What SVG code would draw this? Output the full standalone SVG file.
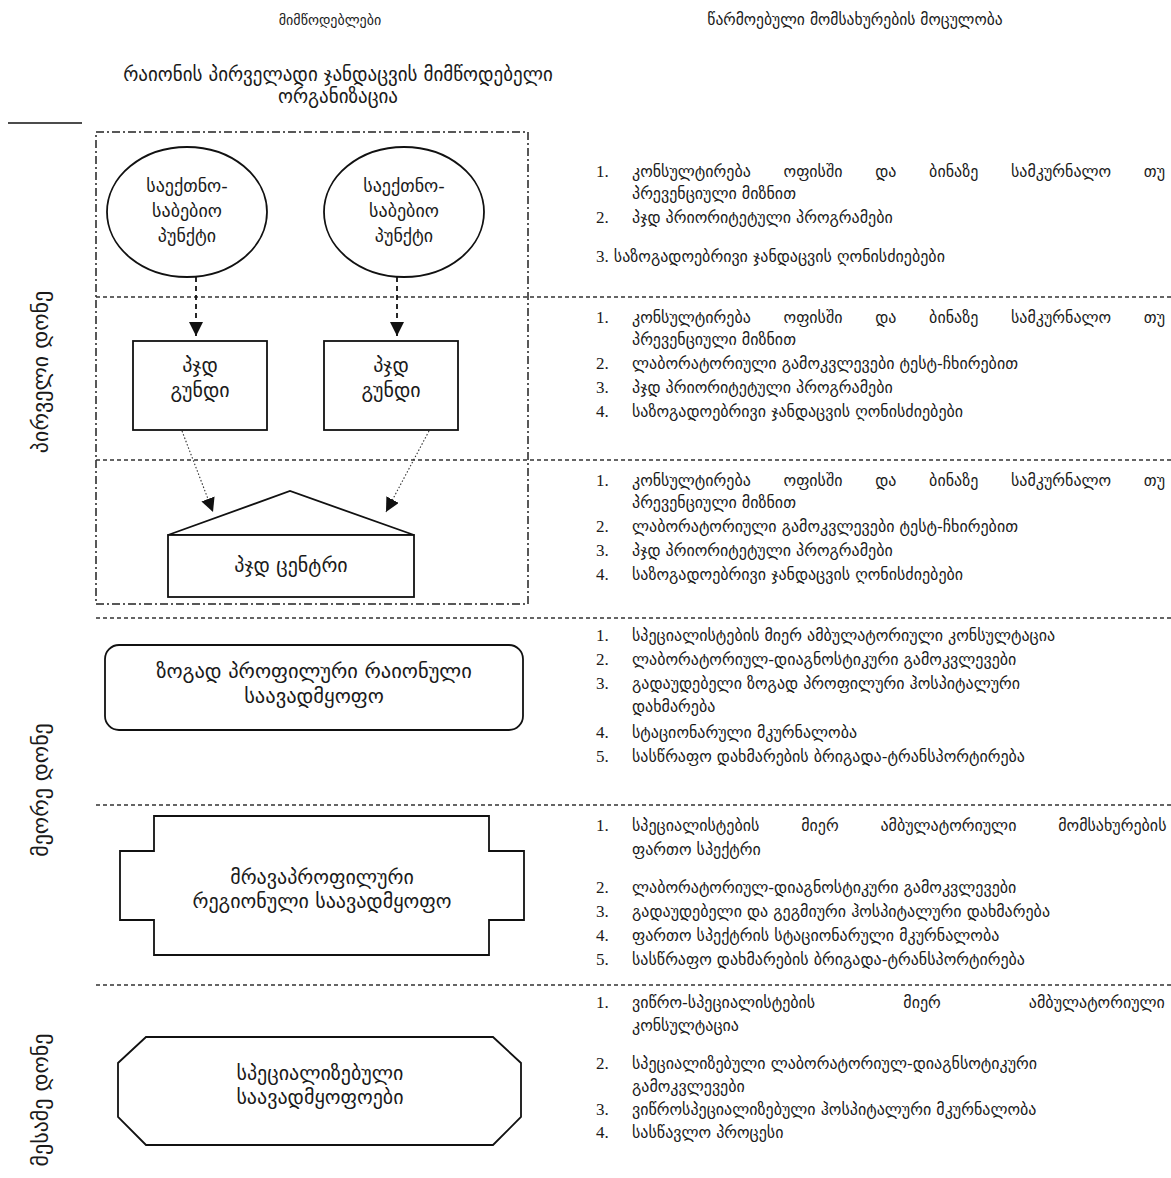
<svg xmlns="http://www.w3.org/2000/svg" width="1171" height="1178" viewBox="0 0 1171 1178">
<style>
text{font-family:"DejaVu Sans",sans-serif;fill:#1a1a1a}
.h{font-size:15px}
.sub{font-size:19px}
.t{font-size:16px}
.n{font-family:"Liberation Serif",serif;font-size:17px}
.lv{font-size:22px}
.ne{font-size:18px}
.nd{font-size:20px}
.sh{fill:#fff;stroke:#111;stroke-width:1.8}
.sep{stroke:#333;stroke-width:1.3;stroke-dasharray:4 3;fill:none}
.dd{stroke:#222;stroke-width:1.5;stroke-dasharray:8 3 2 3;fill:none}
.da{stroke:#111;stroke-width:1.8;stroke-dasharray:5 4;fill:none}
.do{stroke:#333;stroke-width:1.1;stroke-dasharray:1.5 2;fill:none}
</style>
<defs>
<marker id="ah" markerUnits="userSpaceOnUse" markerWidth="14" markerHeight="14" viewBox="0 0 14 14" refX="14" refY="7" orient="auto">
<path d="M0,0 L14,7 L0,14 z" fill="#111"/>
</marker>
</defs>
<rect width="1171" height="1178" fill="#fff"/>

<g id="headers">
<text class="h" x="330" y="25" text-anchor="middle" style="font-size:14px">მიმწოდებლები</text>
<text class="h" x="855" y="25" text-anchor="middle" style="font-size:15.6px">წარმოებული მომსახურების მოცულობა</text>
<text class="sub" x="338" y="81" text-anchor="middle">რაიონის პირველადი ჯანდაცვის მიმწოდებელი</text>
<text class="sub" x="338" y="103" text-anchor="middle">ორგანიზაცია</text>
<line x1="8" y1="123" x2="82" y2="123" stroke="#111" stroke-width="1.5"/>
</g>

<g id="levels">
<text class="lv" transform="translate(48,372) rotate(-90)" text-anchor="middle">პირველი დონე</text>
<text class="lv" transform="translate(48,790) rotate(-90)" text-anchor="middle">მეორე დონე</text>
<text class="lv" transform="translate(48,1100) rotate(-90)" text-anchor="middle">მესამე დონე</text>
</g>

<g id="separators">
<rect class="dd" x="96" y="132" width="432" height="472"/>
<line class="sep" x1="96" y1="297" x2="1171" y2="297"/>
<line class="sep" x1="96" y1="460" x2="1171" y2="460"/>
<line class="sep" x1="96" y1="618" x2="1171" y2="618"/>
<line class="sep" x1="96" y1="805" x2="1171" y2="805"/>
<line class="sep" x1="96" y1="985" x2="1171" y2="985"/>
</g>

<g id="connectors">
<line class="da" x1="196" y1="277" x2="196" y2="336" marker-end="url(#ah)"/>
<line class="da" x1="397" y1="277" x2="397" y2="336" marker-end="url(#ah)"/>
<line class="do" x1="182" y1="431" x2="213" y2="512" marker-end="url(#ah)"/>
<line class="do" x1="429" y1="431" x2="386" y2="512" marker-end="url(#ah)"/>
</g>

<g id="fap1">
<ellipse class="sh" cx="187" cy="212" rx="80" ry="65"/>
<text class="ne" text-anchor="middle"><tspan x="187" y="192">საექთნო-</tspan><tspan x="187" y="217">საბებიო</tspan><tspan x="187" y="242">პუნქტი</tspan></text>
</g>
<g id="fap2">
<ellipse class="sh" cx="404" cy="212" rx="80" ry="65"/>
<text class="ne" text-anchor="middle"><tspan x="404" y="192">საექთნო-</tspan><tspan x="404" y="217">საბებიო</tspan><tspan x="404" y="242">პუნქტი</tspan></text>
</g>
<g id="team1">
<rect class="sh" x="133" y="341" width="134" height="89"/>
<text class="nd" text-anchor="middle"><tspan x="200" y="372">პჯდ</tspan><tspan x="200" y="397">გუნდი</tspan></text>
</g>
<g id="team2">
<rect class="sh" x="324" y="341" width="134" height="89"/>
<text class="nd" text-anchor="middle"><tspan x="391" y="372">პჯდ</tspan><tspan x="391" y="397">გუნდი</tspan></text>
</g>
<g id="center">
<path class="sh" d="M168,535 L290,491 L414,535 Z"/>
<rect class="sh" x="168" y="535" width="246" height="62"/>
<text class="nd" x="291" y="572" text-anchor="middle">პჯდ ცენტრი</text>
</g>
<g id="district">
<rect class="sh" x="105" y="645" width="418" height="85" rx="14"/>
<text class="nd" text-anchor="middle" style="font-size:20.5px"><tspan x="314" y="678">ზოგად პროფილური რაიონული</tspan><tspan x="314" y="703">საავადმყოფო</tspan></text>
</g>
<g id="regional">
<path class="sh" d="M154,816 H489 V851 H524 V920 H489 V955 H154 V920 H120 V851 H154 Z"/>
<text class="nd" text-anchor="middle"><tspan x="322" y="884">მრავაპროფილური</tspan><tspan x="322" y="908">რეგიონული საავადმყოფო</tspan></text>
</g>
<g id="specialized">
<path class="sh" d="M146,1037 H493 L521,1063 V1117 L493,1145 H146 L118,1117 V1063 Z"/>
<text class="nd" text-anchor="middle"><tspan x="320" y="1080">სპეციალიზებული</tspan><tspan x="320" y="1104">საავადმყოფოები</tspan></text>
</g>

<g id="services1">
<text class="n" x="596" y="177">1.</text>
<text class="t" x="632" y="177" style="word-spacing:27.6px">კონსულტირება ოფისში და ბინაზე სამკურნალო თუ</text>
<text class="t" x="632" y="199">პრევენციული მიზნით</text>
<text class="n" x="596" y="223">2.</text>
<text class="t" x="632" y="223">პჯდ პრიორიტეტული პროგრამები</text>
<text class="t" x="596" y="262"><tspan class="n">3.</tspan> საზოგადოებრივი ჯანდაცვის ღონისძიებები</text>
</g>

<g id="services2">
<text class="n" x="596" y="323">1.</text>
<text class="t" x="632" y="323" style="word-spacing:27.6px">კონსულტირება ოფისში და ბინაზე სამკურნალო თუ</text>
<text class="t" x="632" y="345">პრევენციული მიზნით</text>
<text class="n" x="596" y="369">2.</text>
<text class="t" x="632" y="369">ლაბორატორიული გამოკვლევები ტესტ-ჩხირებით</text>
<text class="n" x="596" y="393">3.</text>
<text class="t" x="632" y="393">პჯდ პრიორიტეტული პროგრამები</text>
<text class="n" x="596" y="417">4.</text>
<text class="t" x="632" y="417">საზოგადოებრივი ჯანდაცვის ღონისძიებები</text>
</g>

<g id="services3">
<text class="n" x="596" y="486">1.</text>
<text class="t" x="632" y="486" style="word-spacing:27.6px">კონსულტირება ოფისში და ბინაზე სამკურნალო თუ</text>
<text class="t" x="632" y="508">პრევენციული მიზნით</text>
<text class="n" x="596" y="532">2.</text>
<text class="t" x="632" y="532">ლაბორატორიული გამოკვლევები ტესტ-ჩხირებით</text>
<text class="n" x="596" y="556">3.</text>
<text class="t" x="632" y="556">პჯდ პრიორიტეტული პროგრამები</text>
<text class="n" x="596" y="580">4.</text>
<text class="t" x="632" y="580">საზოგადოებრივი ჯანდაცვის ღონისძიებები</text>
</g>

<g id="services4">
<text class="n" x="596" y="641">1.</text>
<text class="t" x="632" y="641">სპეციალისტების მიერ ამბულატორიული კონსულტაცია</text>
<text class="n" x="596" y="665">2.</text>
<text class="t" x="632" y="665">ლაბორატორიულ-დიაგნოსტიკური გამოკვლევები</text>
<text class="n" x="596" y="689">3.</text>
<text class="t" x="632" y="689">გადაუდებელი ზოგად პროფილური ჰოსპიტალური</text>
<text class="t" x="632" y="712">დახმარება</text>
<text class="n" x="596" y="738">4.</text>
<text class="t" x="632" y="738">სტაციონარული მკურნალობა</text>
<text class="n" x="596" y="762">5.</text>
<text class="t" x="632" y="762">სასწრაფო დახმარების ბრიგადა-ტრანსპორტირება</text>
</g>

<g id="services5">
<text class="n" x="596" y="831">1.</text>
<text class="t" x="632" y="831" style="word-spacing:36.7px">სპეციალისტების მიერ ამბულატორიული მომსახურების</text>
<text class="t" x="632" y="855">ფართო სპექტრი</text>
<text class="n" x="596" y="893">2.</text>
<text class="t" x="632" y="893">ლაბორატორიულ-დიაგნოსტიკური გამოკვლევები</text>
<text class="n" x="596" y="917">3.</text>
<text class="t" x="632" y="917">გადაუდებელი და გეგმიური ჰოსპიტალური დახმარება</text>
<text class="n" x="596" y="941">4.</text>
<text class="t" x="632" y="941">ფართო სპექტრის სტაციონარული მკურნალობა</text>
<text class="n" x="596" y="965">5.</text>
<text class="t" x="632" y="965">სასწრაფო დახმარების ბრიგადა-ტრანსპორტირება</text>
</g>

<g id="services6">
<text class="n" x="596" y="1008">1.</text>
<text class="t" x="632" y="1008" style="word-spacing:83px">ვიწრო-სპეციალისტების მიერ ამბულატორიული</text>
<text class="t" x="632" y="1031">კონსულტაცია</text>
<text class="n" x="596" y="1069">2.</text>
<text class="t" x="632" y="1069">სპეციალიზებული ლაბორატორიულ-დიაგნსოტიკური</text>
<text class="t" x="632" y="1092">გამოკვლევები</text>
<text class="n" x="596" y="1115">3.</text>
<text class="t" x="632" y="1115">ვიწროსპეციალიზებული ჰოსპიტალური მკურნალობა</text>
<text class="n" x="596" y="1138">4.</text>
<text class="t" x="632" y="1138">სასწავლო პროცესი</text>
</g>
</svg>
